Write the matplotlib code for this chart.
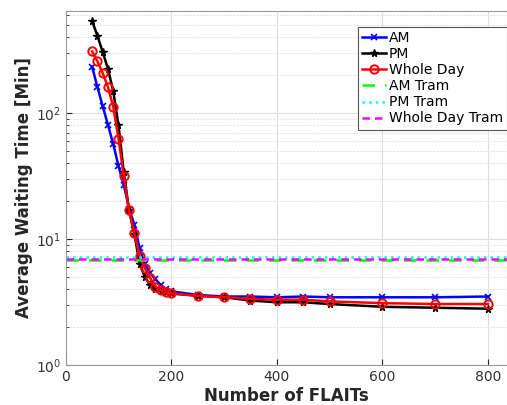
import numpy as np
import matplotlib
matplotlib.use("Agg")
import matplotlib.pyplot as plt

# number of FLAITs in the fleet
flaits = [50, 60, 70, 80, 90, 100, 110, 120, 130, 140, 150, 160, 170, 180, 190, 200,
          250, 300, 350, 400, 450, 500, 600, 700, 800]

# average waiting time [min]
wait_am = [235, 162, 114, 81, 57, 38, 27, 17.5, 13, 8.5, 6.3, 5.4, 4.8, 4.3, 4.0, 3.85,
           3.6, 3.5, 3.5, 3.45, 3.5, 3.45, 3.45, 3.45, 3.5]
wait_pm = [540, 414, 307, 226, 150, 80, 34, 17, 11, 6.4, 5.0, 4.3, 4.05, 3.9, 3.8, 3.7,
           3.55, 3.45, 3.25, 3.15, 3.15, 3.05, 2.9, 2.85, 2.8]
wait_day = [310, 259, 209, 162, 113, 63, 31.6, 17, 11.2, 7.3, 5.85, 4.9, 4.2, 3.95, 3.8, 3.7,
            3.55, 3.45, 3.35, 3.3, 3.3, 3.2, 3.1, 3.05, 3.05]

# tram reference waiting times (constant)
tram_x = [0, 860]
tram_am = 6.8
tram_pm = 7.15
tram_day = 7.0

fig = plt.figure(figsize=(5.07, 4.05), dpi=100)
ax = fig.add_axes([0.1296, 0.0988, 0.8704, 0.8742])

ax.plot(flaits, wait_am, color="blue", marker="x", ms=4.5, mew=1.2, lw=1.8, label="AM")
ax.plot(flaits, wait_pm, color="black", marker="*", ms=5.5, lw=1.8, label="PM")
ax.plot(flaits, wait_day, color="red", marker="o", ms=6, mfc="none", mew=1.4, lw=1.8,
        label="Whole Day")
ax.plot(tram_x, [tram_am] * 2, color="#00ff00", ls=(0, (5, 4)), lw=1.8, label="AM Tram")
ax.plot(tram_x, [tram_pm] * 2, color="cyan", ls=":", lw=1.8, label="PM Tram")
ax.plot(tram_x, [tram_day] * 2, color="magenta", ls=(0, (3, 2)), lw=1.8, label="Whole Day Tram")

ax.set_yscale("log")
ax.set_xlim(0, 836)
ax.set_ylim(1, 650)
ax.set_xticks([0, 200, 400, 600, 800])

ax.grid(True, which="major", color="#dddddd", lw=0.8)
ax.grid(True, which="minor", axis="y", color="#e6e6e6", lw=0.8, ls=(0, (2, 1)))
ax.set_axisbelow(True)

ax.tick_params(which="both", direction="in", colors="#262626", labelsize=10)
ax.tick_params(axis="both", labelcolor="#333333")
ax.tick_params(which="major", length=4)
ax.tick_params(which="minor", length=2)
for s in ax.spines.values():
    s.set_color("#999999")

ax.set_xlabel("Number of FLAITs", fontsize=12, fontweight="bold", color="#262626", labelpad=2)
ax.set_ylabel("Average Waiting Time [Min]", fontsize=12, fontweight="bold", color="#262626",
              labelpad=2)

leg = ax.legend(loc="upper right", bbox_to_anchor=(1.0, 0.955), borderaxespad=0,
                fontsize=10, handlelength=1.7, handletextpad=0.2, labelspacing=0.15,
                borderpad=0.3, fancybox=False, framealpha=1)
leg.get_frame().set_edgecolor("#555555")
leg.get_frame().set_linewidth(0.8)

fig.savefig("out.png", dpi=100)
